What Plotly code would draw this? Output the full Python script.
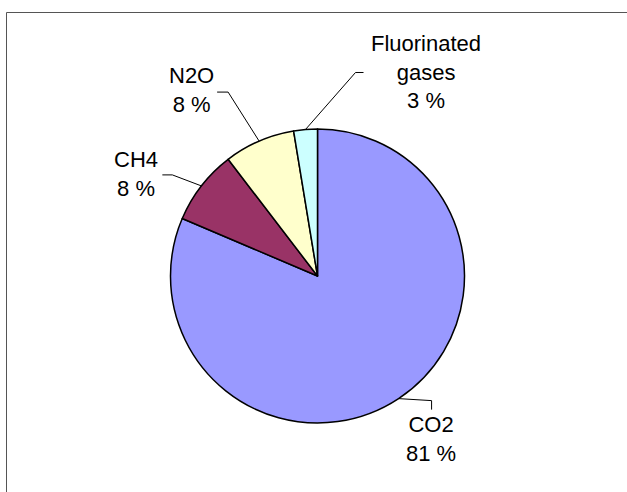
import math
import plotly.graph_objects as go

# greenhouse gas shares (%)
gases = ["CO2", "CH4", "N2O", "Fluorinated gases"]
label_text = ["CO2", "CH4", "N2O", "Fluorinated<br>gases"]
shares = [81.4, 8.2, 7.8, 2.6]
colors = ["#9999FF", "#993366", "#FFFFCC", "#CCFFFF"]

W, H = 627, 492
cx, cy, r = 317.5, 276, 147   # pie centre / radius in px

# leader line layout per label: (elbow dx, dy), (end dx, dy), (text dx, dy) relative to slice edge
leader = [
    [(33, 2), (33, 11), (32, 40)],
    [(-29, -11), (-39, -11), (-65, -12)],
    [(-31, -49), (-42, -49), (-68, -51)],
    [(50, -57), (58, -57), (120, -57)],
]


def px(x):
    return x / W


def py(y):
    return 1 - y / H


fig = go.Figure()
fig.add_trace(go.Pie(
    labels=gases,
    values=shares,
    sort=False,
    direction="clockwise",
    rotation=0,
    textinfo="none",
    showlegend=False,
    marker=dict(colors=colors, line=dict(color="#000000", width=1.5)),
    domain=dict(x=[px(cx - r), px(cx + r)], y=[py(cy + r), py(cy - r)]),
))

total = sum(shares)
start = 0.0
shapes = []
annotations = []
for i, v in enumerate(shares):
    mid = (start + v / 2) / total * 2 * math.pi
    start += v
    ax = cx + r * math.sin(mid)
    ay = cy - r * math.cos(mid)
    (ex, ey), (fx, fy), (tx, ty) = leader[i]
    path = "M %f %f L %f %f L %f %f" % (
        px(ax), py(ay), px(ax + ex), py(ay + ey), px(ax + fx), py(ay + fy))
    shapes.append(dict(type="path", path=path, xref="paper", yref="paper",
                       line=dict(color="#000000", width=1)))
    annotations.append(dict(
        x=px(ax + tx), y=py(ay + ty), xref="paper", yref="paper",
        text="%s<br>%d %%" % (label_text[i], round(v)),
        showarrow=False, xanchor="center", yanchor="middle",
        font=dict(family="Liberation Sans, Arial", size=22, color="#000000"),
    ))

# chart area border (only top/left edges visible)
shapes.append(dict(type="rect", xref="paper", yref="paper",
                   x0=px(6.5), y0=-0.2, x1=1.2, y1=py(12.5),
                   line=dict(color="#555555", width=1)))

fig.update_layout(
    width=W, height=H, autosize=False,
    margin=dict(l=0, r=0, t=0, b=0),
    paper_bgcolor="white", plot_bgcolor="white",
    shapes=shapes, annotations=annotations,
)

# page body has a default 8px margin; drop it so the figure sits at the window origin
fig.write_html("out.html", config={"displayModeBar": False},
               post_script="document.body.style.margin='0';")
